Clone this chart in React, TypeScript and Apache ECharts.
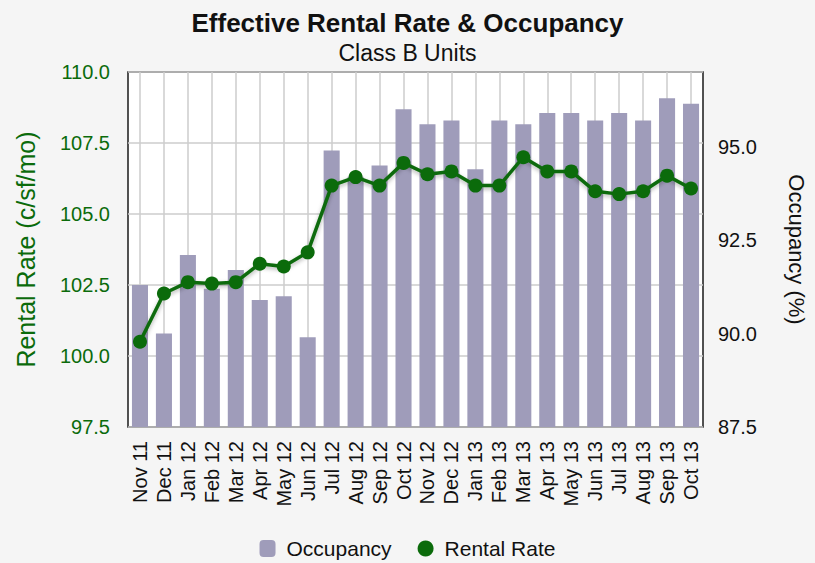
import React, { useEffect, useRef } from "react";
import * as echarts from "echarts";

const categories = [
  "Nov 11", "Dec 11", "Jan 12", "Feb 12", "Mar 12", "Apr 12", "May 12", "Jun 12",
  "Jul 12", "Aug 12", "Sep 12", "Oct 12", "Nov 12", "Dec 12", "Jan 13", "Feb 13",
  "Mar 13", "Apr 13", "May 13", "Jun 13", "Jul 13", "Aug 13", "Sep 13", "Oct 13",
];
const occupancy = [
  91.3, 90.0, 92.1, 91.2, 91.7, 90.9, 91.0, 89.9,
  94.9, 94.2, 94.5, 96.0, 95.6, 95.7, 94.4, 95.7,
  95.6, 95.9, 95.9, 95.7, 95.9, 95.7, 96.3, 96.15,
];
const rentalRate = [
  100.5, 102.2, 102.6, 102.55, 102.6, 103.25, 103.15, 103.65,
  106.0, 106.3, 106.0, 106.8, 106.4, 106.5, 106.0, 106.0,
  107.0, 106.5, 106.5, 105.8, 105.7, 105.8, 106.35, 105.9,
];
const leftTicks = { min: 97.5, max: 110, interval: 2.5 };
const rightTicks = { min: 87.5, max: 97, interval: 2.5 };

const FONT = "'Liberation Sans', Arial, Helvetica, sans-serif";
const GREEN = "#0b6b0b";
const BAR = "#9f9cba";

export default function App() {
  const ref = useRef<HTMLDivElement>(null);
  useEffect(() => {
    document.body.style.margin = "0";
    document.body.style.background = "#f5f5f5";
    const chart = echarts.init(ref.current!, null, { renderer: "svg" });
    chart.setOption({
      animation: false,
      backgroundColor: "#f5f5f5",
      textStyle: { fontFamily: FONT },
      title: {
        text: "Effective Rental Rate & Occupancy",
        subtext: "Class B Units",
        left: "center",
        top: 5,
        itemGap: 5,
        textStyle: { fontFamily: FONT, fontSize: 26, fontWeight: "bold", color: "#111" },
        subtextStyle: { fontFamily: FONT, fontSize: 23, color: "#111" },
      },
      legend: {
        bottom: -1,
        left: "center",
        itemWidth: 16,
        itemHeight: 17,
        itemGap: 26,
        textStyle: { fontFamily: FONT, fontSize: 21, color: "#111", padding: [0, 0, 0, 6] },
        data: [
          { name: "Occupancy", icon: "roundRect" },
          { name: "Rental Rate", icon: "circle" },
        ],
      },
      grid: {
        left: 128,
        right: 112,
        top: 72,
        bottom: 136,
        show: true,
        backgroundColor: "#ffffff",
        borderColor: "#1a1a1a",
        borderWidth: 1.5,
      },
      xAxis: {
        type: "category",
        data: categories,
        axisLine: { show: false },
        axisTick: { show: false },
        axisLabel: {
          rotate: 90,
          interval: 0,
          fontSize: 20,
          color: "#111",
          margin: 14,
          fontFamily: FONT,
        },
        splitLine: {
          show: true,
          alignWithLabel: true,
          lineStyle: { color: "#cccccc", width: 1.5 },
        },
      },
      yAxis: [
        {
          type: "value",
          min: leftTicks.min,
          max: leftTicks.max,
          interval: leftTicks.interval,
          name: "Rental Rate (c/sf/mo)",
          nameLocation: "middle",
          nameGap: 90,
          nameTextStyle: { color: GREEN, fontSize: 25, fontFamily: FONT },
          axisLine: { show: false },
          axisTick: { show: false },
          axisLabel: {
            color: GREEN,
            fontSize: 20,
            margin: 18,
            fontFamily: FONT,
            formatter: (v: number) => v.toFixed(1),
          },
          splitLine: { show: true, lineStyle: { color: "#cccccc", width: 1.5 } },
        },
        {
          type: "value",
          min: rightTicks.min,
          max: rightTicks.max,
          interval: rightTicks.interval,
          name: "Occupancy (%)",
          nameLocation: "middle",
          nameRotate: -90,
          nameGap: 82,
          nameTextStyle: { color: "#111", fontSize: 22, fontFamily: FONT },
          axisLine: { show: false },
          axisTick: { show: false },
          axisLabel: {
            color: "#111",
            fontSize: 20,
            margin: 15,
            showMaxLabel: false,
            fontFamily: FONT,
            formatter: (v: number) => v.toFixed(1),
          },
          splitLine: { show: false },
        },
      ],
      series: [
        {
          name: "Occupancy",
          type: "bar",
          yAxisIndex: 1,
          data: occupancy,
          barCategoryGap: "33%",
          itemStyle: { color: BAR },
          z: 2,
        },
        {
          name: "Rental Rate",
          type: "line",
          yAxisIndex: 0,
          data: rentalRate,
          symbol: "circle",
          symbolSize: 14,
          itemStyle: { color: GREEN },
          lineStyle: {
            color: GREEN,
            width: 3.5,
            shadowColor: "rgba(0,0,0,0.3)",
            shadowBlur: 4,
            shadowOffsetY: 2,
          },
          z: 3,
        },
      ],
    });
    return () => chart.dispose();
  }, []);
  return <div ref={ref} style={{ width: 815, height: 563 }} />;
}
